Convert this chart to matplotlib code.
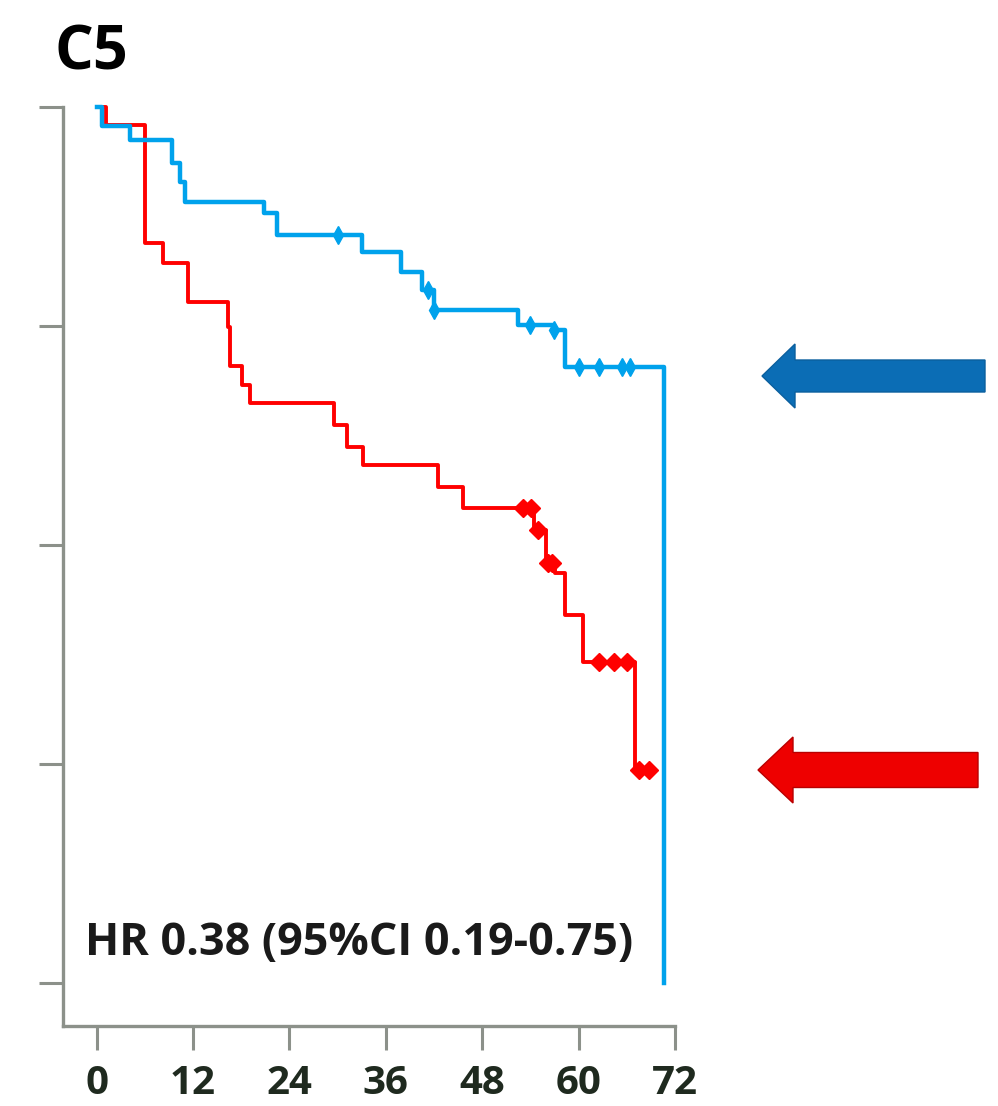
import numpy as np
import matplotlib
matplotlib.use('Agg')
import matplotlib.pyplot as plt
import matplotlib.patches as mpatches

# 生存曲线数据（月份, 生存率）
blue_t = [0, 0.6, 4.1, 9.4, 10.4, 11.0, 20.8, 22.4, 33.0, 37.9, 40.5, 42.0, 52.5, 56.9, 58.3, 70.6]
blue_s = [1.0, 0.978, 0.962, 0.936, 0.914, 0.892, 0.879, 0.854, 0.834, 0.812, 0.791, 0.768, 0.751, 0.745, 0.703, 0.0]
blue_cens = [30.1, 41.3, 42.0, 53.9, 56.9, 60.0, 62.5, 65.4, 66.4]

red_t = [0, 1.2, 6.0, 8.25, 11.4, 16.4, 16.6, 18.1, 19.1, 29.6, 31.1, 33.1, 42.5, 45.6, 54.5, 56.0, 57.0, 58.3, 60.6, 67.0, 68.75]
red_s = [1.0, 0.979, 0.845, 0.822, 0.777, 0.749, 0.704, 0.683, 0.662, 0.637, 0.612, 0.591, 0.566, 0.542, 0.517, 0.479, 0.468, 0.42, 0.366, 0.243, 0.243]
red_cens = [53.1, 54.1, 55.0, 56.2, 56.7, 62.5, 64.4, 66.0, 67.5, 68.75]

x_ticks = [0, 12, 24, 36, 48, 60, 72]
y_ticks = [0, 0.25, 0.5, 0.75, 1.0]
hr_text = 'HR 0.38 (95%CI 0.19-0.75)'

BLUE = '#00a2ec'
RED = '#ff0000'
AXC = '#8c918a'


def surv_at(times, surv, t):
    i = np.searchsorted(times, t, side='right') - 1
    return surv[i]


fig = plt.figure(figsize=(9.98, 11.06), dpi=100)
ax = fig.add_axes([63 / 998, 80 / 1106, 612 / 998, 919 / 1106])

ax.step(blue_t, blue_s, where='post', color=BLUE, lw=3.2, clip_on=False, zorder=3)
ax.step(red_t, red_s, where='post', color=RED, lw=2.8, clip_on=False, zorder=2)

# 删失点
ax.plot(blue_cens, [surv_at(blue_t, blue_s, t) for t in blue_cens], 'd',
        color=BLUE, ms=9, clip_on=False, zorder=3)
ax.plot(red_cens, [surv_at(red_t, red_s, t) for t in red_cens], 'D',
        color=RED, ms=9, clip_on=False, zorder=2)

ax.set_xlim(-4.2, 72)
ax.set_ylim(-0.049, 1.0)
ax.set_xticks(x_ticks)
ax.set_xticklabels([str(v) for v in x_ticks])
ax.set_yticks(y_ticks)
ax.set_yticklabels([])

for s in ['top', 'right']:
    ax.spines[s].set_visible(False)
for s in ['left', 'bottom']:
    ax.spines[s].set_color(AXC)
    ax.spines[s].set_linewidth(2.4)
ax.tick_params(axis='both', color=AXC, width=2.2, length=17)
ax.tick_params(axis='x', pad=10, labelsize=29, labelcolor='#1f2a1f')
for lab in ax.get_xticklabels():
    lab.set_family('Open Sans')
    lab.set_fontweight('bold')

ax.text(-1.5, 0.032, hr_text, ha='left', va='baseline', fontsize=32.3,
        family='Open Sans', fontweight='bold', color='#1a1a1a')

fig.text(55 / 998, 1 - 70 / 1106, 'C5', ha='left', va='baseline', fontsize=44,
         family='Open Sans', fontweight='bold', color='black')

# 右侧箭头
arr_b = mpatches.FancyArrow(985 / 998, 1 - 376 / 1106, -223 / 998, 0,
                            width=32 / 1106, head_width=64 / 1106, head_length=33 / 998,
                            length_includes_head=True, transform=fig.transFigure,
                            facecolor='#0b6db5', edgecolor='#0a5f9e', lw=1)
arr_r = mpatches.FancyArrow(978 / 998, 1 - 770 / 1106, -220 / 998, 0,
                            width=35 / 1106, head_width=66 / 1106, head_length=35 / 998,
                            length_includes_head=True, transform=fig.transFigure,
                            facecolor='#ee0000', edgecolor='#b80000', lw=1)
fig.patches.extend([arr_b, arr_r])

plt.savefig('out.png', dpi=100)
